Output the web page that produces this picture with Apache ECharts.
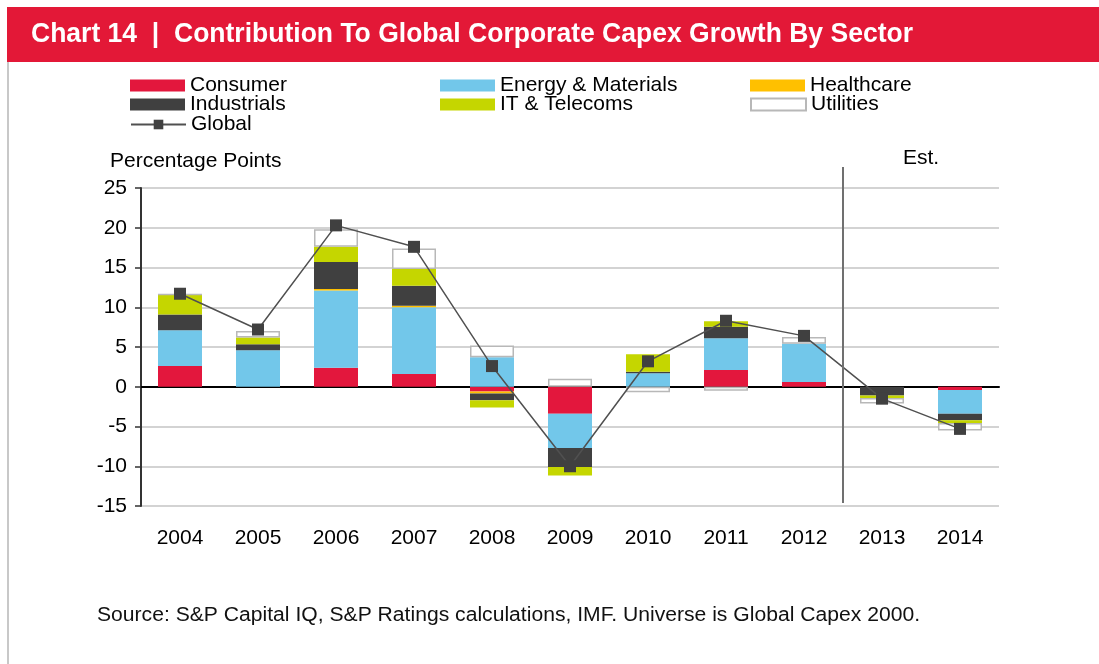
<!DOCTYPE html>
<html>
<head>
<meta charset="utf-8">
<script src="https://cdn.jsdelivr.net/npm/echarts@6/dist/echarts.min.js"></script>
<style>
  html, body { margin: 0; padding: 0; background: #fff; }
  #chart { width: 1099px; height: 664px; }
</style>
</head>
<body>
<div id="chart"></div>
<script>
// --- data (percentage points) ---
const years = ['2004', '2005', '2006', '2007', '2008', '2009', '2010', '2011', '2012', '2013', '2014'];
const consumer    = [2.6, 0,    2.4,  1.6,  -0.6,  -3.4,  0,    2.1,  0.6,  0,    -0.4];
const energy      = [4.5, 4.6,  9.7,  8.4,  3.7,   -4.3,  1.7,  4.0,  4.8,  0,    -3.0];
const healthcare  = [0,   0,    0.2,  0.2,  -0.25, 0,     0,    0,    0,    0,    0];
const industrials = [2.0, 0.75, 3.4,  2.5,  -0.85, -2.4,  0.2,  1.45, 0,    -1.1, -0.8];
const itTelecoms  = [2.5, 0.85, 1.9,  2.1,  -0.9,  -1.05, 2.2,  0.7,  0,    -0.3, -0.35];
const utilities   = [0,   0.8,  2.2,  2.6,  1.5,   1.0,   -0.7, -0.5, 0.85, -0.7, -0.95];
const globalTotal = [11.7, 7.2, 20.3, 17.6, 2.6,   -10.0, 3.2,  8.3,  6.4,  -1.5, -5.3];
const yTicks = { min: -15, max: 25, interval: 5 };

const FONT = '"Liberation Sans", Arial, sans-serif';
const titleText = 'Chart 14  |  Contribution To Global Corporate Capex Growth By Sector';
const sourceText = 'Source: S&P Capital IQ, S&P Ratings calculations, IMF. Universe is Global Capex 2000.';

// squeeze/stretch a text so it spans the same width as in the original
function fitScale(text, font, target) {
    const ctx = document.createElement('canvas').getContext('2d');
    ctx.font = font;
    const w = ctx.measureText(text).width;
    return w > 0 ? target / w : 1;
}

const chart = echarts.init(document.getElementById('chart'));

function barSeries(name, data, color, extra) {
    return Object.assign({
        name: name,
        type: 'bar',
        stack: 'sector',
        data: data,
        barWidth: 44,
        itemStyle: { color: color },
        emphasis: { disabled: true }
    }, extra || {});
}

// one legend per entry so the 3 columns x 3 rows grid lines up like the original
function legendAt(name, left, rowCenter, isBox) {
    return {
        left: left,
        top: rowCenter - 11,
        padding: 0,
        itemWidth: 55,
        itemHeight: 12,
        textStyle: { fontFamily: FONT, fontSize: 21, color: '#000' },
        selectedMode: false,
        data: [isBox ? { name: name, icon: 'rect' } : name]
    };
}

const option = {
    animation: false,
    legend: [
        legendAt('Consumer', 130, 86, true),
        legendAt('Industrials', 130, 105, true),
        legendAt('Global', 130, 125, false),
        legendAt('Energy & Materials', 440, 86, true),
        legendAt('IT & Telecoms', 440, 105, true),
        legendAt('Healthcare', 750, 86, true),
        legendAt('Utilities', 750, 105, true)
    ],
    grid: { left: 141, top: 188, right: 100, bottom: 158 },
    xAxis: {
        type: 'category',
        data: years,
        axisLine: { onZero: true, lineStyle: { color: '#000', width: 2 } },
        axisTick: { length: 6, interval: 0, lineStyle: { color: '#000', width: 1.5 } },
        axisLabel: { margin: 22, fontFamily: FONT, fontSize: 21, color: '#000' },
        splitLine: { show: false }
    },
    yAxis: {
        type: 'value',
        min: yTicks.min,
        max: yTicks.max,
        interval: yTicks.interval,
        axisLine: { show: true, lineStyle: { color: '#333', width: 2 } },
        axisTick: { show: true, length: 6, lineStyle: { color: '#333', width: 1.5 } },
        axisLabel: { margin: 14, fontFamily: FONT, fontSize: 21, color: '#000' },
        splitLine: { lineStyle: { color: '#c4c4c4', width: 1.5 } }
    },
    series: [
        barSeries('Consumer', consumer, '#e3173d'),
        barSeries('Energy & Materials', energy, '#72c7ea'),
        barSeries('Healthcare', healthcare, '#ffc000'),
        barSeries('Industrials', industrials, '#404040'),
        barSeries('IT & Telecoms', itTelecoms, '#c5d600'),
        barSeries('Utilities', utilities, '#fff', {
            itemStyle: { color: '#fff', borderColor: '#b8b8b8', borderWidth: 1.5 }
        }),
        {
            name: 'Global',
            type: 'line',
            data: globalTotal,
            symbol: 'rect',
            symbolSize: 12,
            z: 5,
            lineStyle: { color: '#505050', width: 1.5 },
            itemStyle: { color: '#404040' },
            emphasis: { disabled: true }
        }
    ]
};

chart.setOption(option);

// vertical "Est." divider sits on the boundary between 2012 and 2013
const x12 = chart.convertToPixel({ xAxisIndex: 0 }, '2012');
const x13 = chart.convertToPixel({ xAxisIndex: 0 }, '2013');
const xEst = (x12 + x13) / 2;
const xRight = chart.convertToPixel({ xAxisIndex: 0 }, '2014') + (x13 - x12) / 2;

chart.setOption({
    graphic: [
        { type: 'rect', shape: { x: 7, y: 7, width: 1092, height: 55 }, style: { fill: '#e31837' }, silent: true },
        { type: 'line', shape: { x1: 8, y1: 62, x2: 8, y2: 664 }, style: { stroke: '#c8c8c8', lineWidth: 2 }, silent: true },
        {
            type: 'text', x: 31, y: 34, scaleX: fitScale(titleText, 'bold 28px "Liberation Sans"', 882),
            style: { text: titleText, fill: '#fff', font: 'bold 28px "Liberation Sans"', textAlign: 'left', textVerticalAlign: 'middle' }
        },
        {
            type: 'text', x: 110, y: 161,
            style: { text: 'Percentage Points', fill: '#000', fontFamily: FONT, fontSize: 21, textAlign: 'left', textVerticalAlign: 'middle' }
        },
        { type: 'line', shape: { x1: xEst, y1: 167, x2: xEst, y2: 503 }, style: { stroke: '#707070', lineWidth: 2 }, z: 10, silent: true },
        {
            type: 'text', x: (xEst + xRight) / 2, y: 158,
            style: { text: 'Est.', fill: '#000', fontFamily: FONT, fontSize: 21, textAlign: 'center', textVerticalAlign: 'middle' }
        },
        {
            type: 'text', x: 97, y: 615, scaleX: fitScale(sourceText, '20px "Liberation Sans"', 823),
            style: { text: sourceText, fill: '#111', font: '20px "Liberation Sans"', textAlign: 'left', textVerticalAlign: 'middle' }
        }
    ]
});

window.addEventListener('resize', () => chart.resize());
</script>
</body>
</html>
